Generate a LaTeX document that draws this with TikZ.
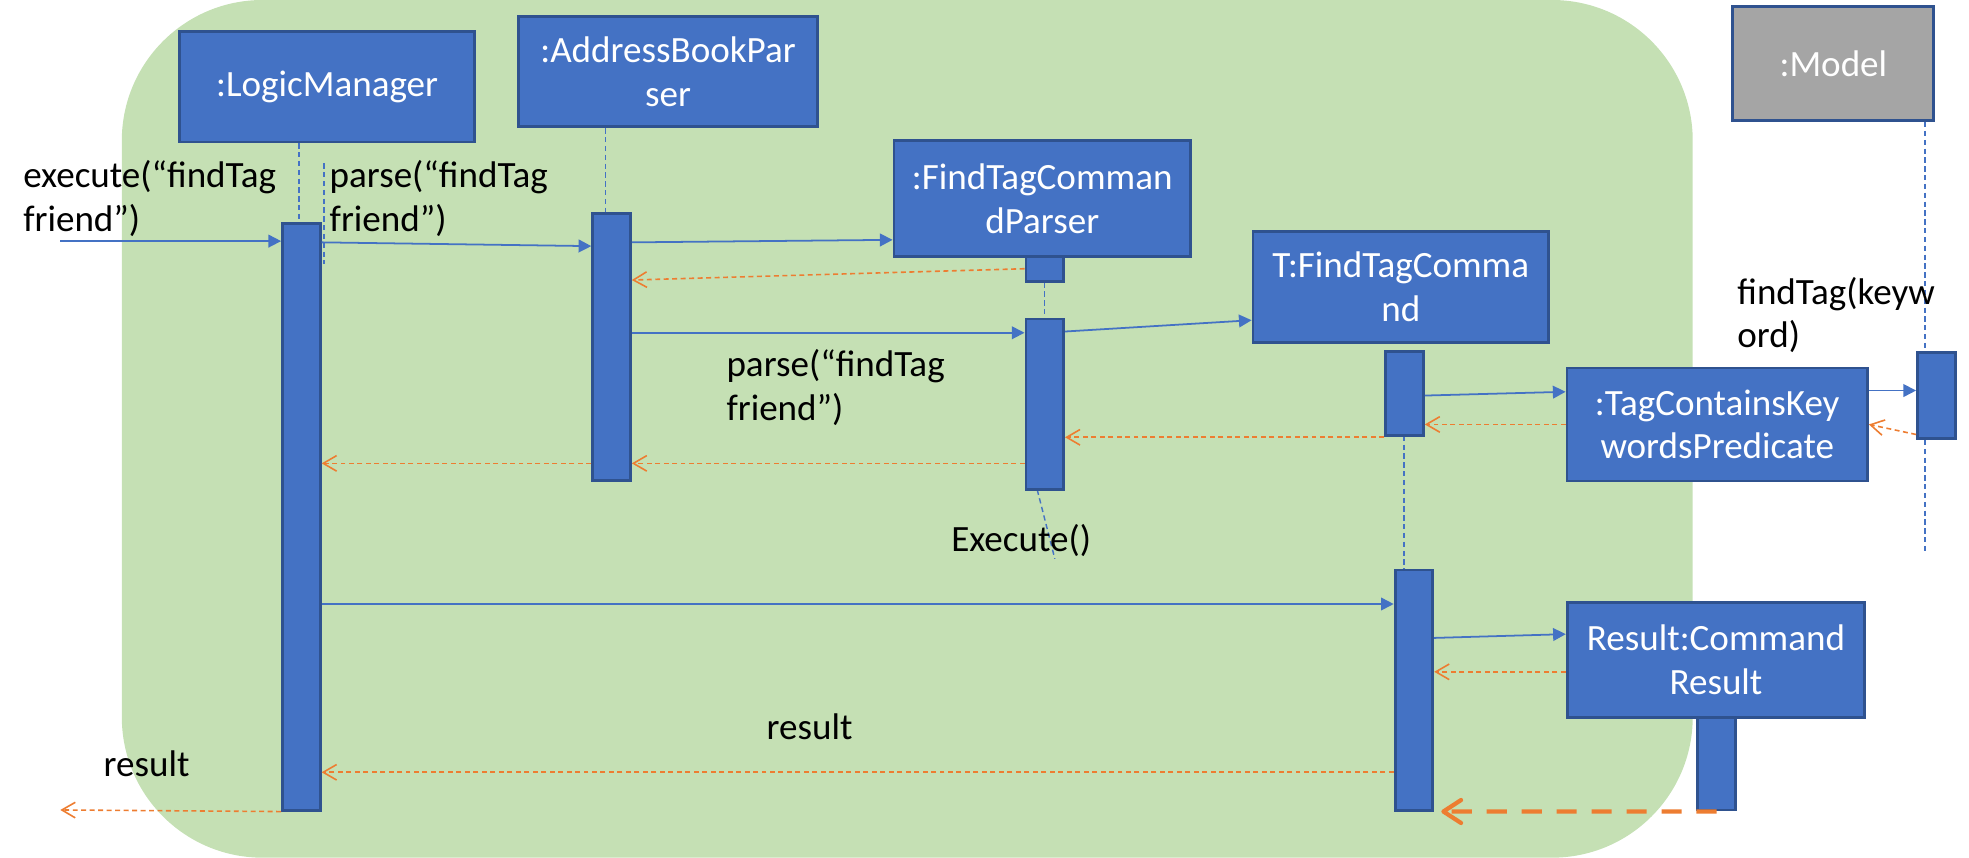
\documentclass[tikz,border=0pt]{standalone}
\usepackage{fontspec}
\setmainfont{Carlito}
\usetikzlibrary{arrows.meta}

\definecolor{objblue}{HTML}{4472C4}
\definecolor{objline}{HTML}{2F528F}
\definecolor{retorange}{HTML}{ED7D31}
\definecolor{refgreen}{HTML}{C5E0B4}
\definecolor{modelgray}{HTML}{A5A5A5}

\begin{document}
\begin{tikzpicture}[x=0.0125cm, y=-0.0125cm,
  >={Triangle[length=3.6pt,width=3.6pt]},
  obj/.style={draw=objline, line width=0.8pt, fill=objblue, text=white,
    align=center, inner sep=0pt, font=\fontsize{10.5}{12.4}\selectfont},
  bar/.style={draw=objline, line width=0.8pt, fill=objblue,
    minimum width=0.375cm, inner sep=0pt},
  lifeline/.style={draw=objblue, line width=0.4pt, dash pattern=on 1.5pt off 1pt},
  msg/.style={draw=objblue, line width=0.5pt, ->},
  ret/.style={draw=retorange, line width=0.45pt, dash pattern=on 1.4pt off 1pt,
    -{Straight Barb[length=3.8pt,width=4.4pt]}},
  bigret/.style={draw=retorange, line width=1.2pt, dash pattern=on 5.7pt off 4.2pt,
    shorten >=2pt, -{Straight Barb[length=5pt,width=6.5pt,round]}},
  lbl/.style={anchor=north west, align=left, inner sep=0pt,
    font=\fontsize{10.5}{12.4}\selectfont}]

\useasboundingbox (0,0) rectangle (1568,683);

% frame
\fill[refgreen, rounded corners=1.4cm] (97,0) rectangle (1348,683);

% objects
\node[obj, minimum width=2.94cm, minimum height=1.1cm] (lm) at (260.5,69) {:LogicManager};
\node[obj, minimum width=2.98cm, minimum height=1.1cm] (ab) at (532,57) {:AddressBookPar\\ser};
\node[obj, minimum width=2.95cm, minimum height=1.15cm] (ftcp) at (830,158) {:FindTagComman\\dParser};
\node[obj, minimum width=2.94cm, minimum height=1.11cm] (ftc) at (1115.5,228.5) {T:FindTagComma\\nd};
\node[obj, fill=modelgray, minimum width=2.0cm, minimum height=1.14cm] (model) at (1460,50.5) {:Model};

% lifelines
\coordinate (pl1) at (258,130);
\coordinate (pl2) at (258,210);
\coordinate (mlend) at (1533,440);
\coordinate (ftcpend) at (840,445);
\draw[lifeline] (lm.south -| 238,0) -- (238,178);
\draw[lifeline] (pl1) -- (pl2);
\draw[lifeline] (ab.south -| 482,0) -- (482,170);
\draw[lifeline] (832,204) -- (832,254);
\draw[lifeline] (826,390) -- (ftcpend);
\draw[lifeline] (1118,347) -- (1118,454);
\draw[lifeline] (model.south -| mlend) -- (mlend);

% activations
\node[bar, minimum height=5.84cm] (lmbar) at (240,411.5) {};
\node[bar, minimum height=2.66cm] (abbar) at (487,276.5) {};
\node[bar, minimum height=0.25cm] (ftcpbar1) at (832,214) {};
\node[bar, minimum height=1.7cm] (ftcpbar2) at (832,322) {};
\node[bar, minimum height=0.84cm] (ftcbar1) at (1118.5,313.5) {};
\node[bar, minimum height=2.39cm] (ftcbar2) at (1126,549.5) {};
\node[bar, minimum height=0.85cm] (modelbar) at (1542,315) {};
\node[bar, minimum height=0.925cm] (resbar) at (1367,608) {};

\node[obj, minimum width=2.99cm, minimum height=1.125cm] (tckp) at (1367.5,338) {:TagContainsKey\\wordsPredicate};
\node[obj, minimum width=2.96cm, minimum height=1.14cm] (res) at (1366.5,525.5) {Result:Command\\Result};

% calls
\coordinate (in) at (48,192);
\draw[msg] (in) -- (lmbar.west |- in);
\draw[msg] (lmbar.east |- 0,193) -- (abbar.west |- 0,196);
\draw[msg] (abbar.east |- 0,193) -- (ftcp.west |- 0,191);
\draw[msg] (abbar.east |- 0,265) -- (ftcpbar2.west |- 0,265);
\draw[msg] (ftcpbar2.east |- 0,264) -- (ftc.west |- 0,255);
\draw[msg] (ftcbar1.east |- 0,315) -- (tckp.west |- 0,312);
\draw[msg] (tckp.east |- 0,311) -- (modelbar.west |- 0,311);
\draw[msg] (lmbar.east |- 0,481) -- (ftcbar2.west |- 0,481);
\draw[msg] (ftcbar2.east |- 0,508) -- (res.west |- 0,505);

% returns
\coordinate (out) at (48,645);
\draw[ret] (ftcpbar1.west) -- (abbar.east |- 0,223);
\draw[ret] (ftcpbar2.west |- 0,369) -- (abbar.east |- 0,369);
\draw[ret] (abbar.west |- 0,369) -- (lmbar.east |- 0,369);
\draw[ret] (tckp.west |- 0,338) -- (ftcbar1.east |- 0,338);
\draw[ret] (ftcbar1.south west) -- (ftcpbar2.east |- ftcbar1.south);
\draw[ret] (modelbar.west |- 0,346) -- (tckp.east |- 0,338);
\draw[ret] (res.west |- 0,535) -- (ftcbar2.east |- 0,535);
\draw[ret] (ftcbar2.west |- 0,615) -- (lmbar.east |- 0,615);
\draw[ret] (lmbar.south west) -- (out);
\draw[bigret] (resbar.south) -- (ftcbar2.south east);

% labels
\node[lbl] (lexec) at (18,127) {execute(“findTag\\friend”)};
\node[lbl] (lparse) at (262,127) {parse(“findTag\\friend”)};
\node[lbl] (lparse2) at (578,278) {parse(“findTag\\friend”)};
\node[lbl] (lexecute) at (757,417) {Execute()};
\node[lbl] (lfind) at (1383,220) {findTag(keyw\\ord)};
\node[lbl] (lres) at (610,568) {result};
\node[lbl] (lres2) at (82,597) {result};

\end{tikzpicture}
\end{document}
